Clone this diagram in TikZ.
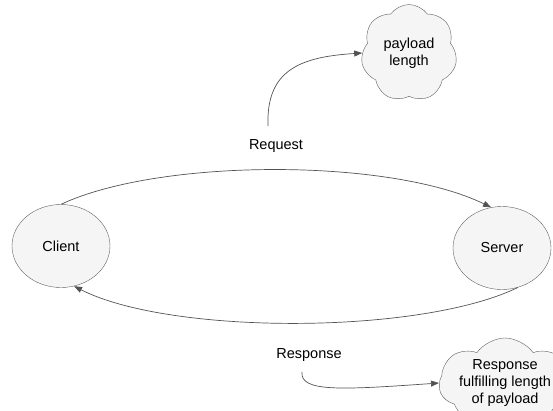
\documentclass[tikz,border=0pt]{standalone}
\usepackage{fontspec}
\setmainfont{Liberation Sans}
\usetikzlibrary{shapes.geometric,shapes.symbols,arrows.meta}
\begin{document}
\begin{tikzpicture}[x=1pt,y=-1pt,
  endpoint/.style={ellipse,draw=gray!75!black,fill=gray!8,inner sep=0pt,
    minimum width=98pt,minimum height=83pt,font=\fontsize{14.5}{17}\selectfont},
  note/.style={cloud,cloud puffs=7,cloud puff arc=110,cloud ignores aspect,draw=gray!75!black,fill=gray!8,
    inner sep=0pt,align=center,font=\fontsize{14.5}{17}\selectfont},
  lbl/.style={font=\fontsize{14.5}{17}\selectfont,inner sep=1pt},
  conn/.style={draw=gray!65!black,line width=0.7pt,-{Triangle[length=8pt,width=6pt]}}]
\useasboundingbox (0,0) rectangle (553,410);
\clip (0,0) rectangle (553,410);
\node[endpoint] (client) at (61,246) {Client};
\node[endpoint] (server) at (502,248) {Server};
\node[note,minimum width=96pt,minimum height=97pt] (payload) at (409,53) {payload\\length};
\node[note,minimum width=116pt,minimum height=90pt] (resp) at (505,383) {Response\\fulfilling length\\of payload};
\node[lbl] (request) at (276,146) {Request};
\node[lbl] (response) at (309,355) {Response};
\coordinate (reqstart) at (268,126);
\coordinate (respstart) at (302,372);
\draw[conn] (client.90) .. controls (160,158) and (390,158) .. (server.105);
\draw[conn] (server.-68) .. controls (420,335) and (170,335) .. (client.-72);
\draw[conn] (reqstart) .. controls (266,70) and (300,57) .. (payload.west);
\draw[conn] (respstart) .. controls (300,392) and (340,390) .. (resp.west);
\end{tikzpicture}
\end{document}
